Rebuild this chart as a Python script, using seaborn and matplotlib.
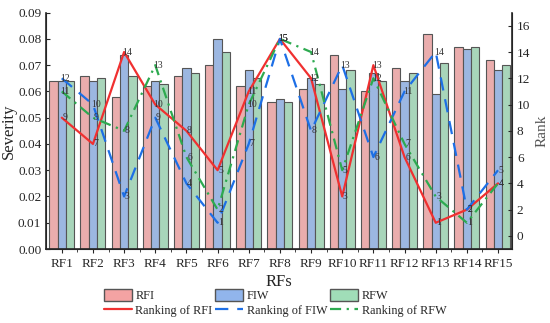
import numpy as np
import pandas as pd
import matplotlib
matplotlib.use("Agg")
import matplotlib.pyplot as plt
import seaborn as sns
from matplotlib.patches import Patch
from matplotlib.lines import Line2D

# data
rfs = [f"RF{i}" for i in range(1, 16)]
sev_rfi = [0.064, 0.066, 0.058, 0.062, 0.066, 0.070, 0.062, 0.056, 0.061, 0.074, 0.060, 0.069, 0.082, 0.077, 0.072]
sev_fiw = [0.064, 0.064, 0.074, 0.064, 0.069, 0.080, 0.068, 0.057, 0.065, 0.061, 0.067, 0.064, 0.059, 0.076, 0.068]
sev_rfw = [0.064, 0.065, 0.066, 0.063, 0.067, 0.075, 0.065, 0.056, 0.063, 0.068, 0.064, 0.067, 0.071, 0.077, 0.070]
rank_rfi = [9, 7, 14, 10, 8, 5, 11, 15, 12, 3, 13, 6, 1, 2, 4]
rank_fiw = [12, 10, 3, 9, 4, 1, 7, 15, 8, 13, 6, 11, 14, 2, 5]
rank_rfw = [11, 9, 8, 13, 6, 2, 10, 15, 14, 5, 12, 7, 3, 1, 4]

sns.set_style("ticks")
plt.rcParams['font.family'] = ['Liberation Serif', 'DejaVu Serif']
plt.rcParams['xtick.direction'] = 'out'
plt.rcParams['ytick.direction'] = 'in'

df = pd.DataFrame({
    "RF": rfs * 3,
    "Severity": sev_rfi + sev_fiw + sev_rfw,
    "Type": ["RFI"] * 15 + ["FIW"] * 15 + ["RFW"] * 15,
})
bar_colors = {"RFI": "#F4A3A3", "FIW": "#91B5EC", "RFW": "#A0DDB8"}

fig = plt.figure(figsize=(5.5, 3.23), dpi=100)
ax = fig.add_axes([0.084, 0.229, 0.847, 0.732])
sns.barplot(data=df, x="RF", y="Severity", hue="Type", palette=bar_colors,
            edgecolor="#555555", linewidth=0.8, width=0.8, ax=ax, legend=False)
ax.set_ylim(0, 0.09)
ax.set_xlim(-0.5, 14.45)
ax.set_yticks(np.arange(0, 0.091, 0.01))
ax.set_yticklabels([f"{v:.2f}" for v in np.arange(0, 0.091, 0.01)])
ax.set_xticks(np.arange(0.5, 14, 1), minor=True)
ax.set_xlabel("RFs", fontsize=12, labelpad=3)
ax.set_ylabel("Severity", fontsize=12, labelpad=1)
ax.tick_params(axis='both', labelsize=9.5, length=3)
ax.tick_params(axis='x', which='minor', length=2)
ax.spines['top'].set_visible(False)
ax.spines['left'].set_linewidth(1.2)
ax.spines['bottom'].set_linewidth(1.2)

ax2 = ax.twinx()
xs = np.arange(15)
line_specs = [
    ("Ranking of RFI", rank_rfi, "#F03030", "-"),
    ("Ranking of FIW", rank_fiw, "#1D6FE6", (0, (6, 4))),
    ("Ranking of RFW", rank_rfw, "#2DAA50", (0, (5, 2.5, 1, 2.5))),
]
for name, r, c, ls in line_specs:
    sns.lineplot(x=xs, y=r, ax=ax2, color=c, linestyle=ls, linewidth=1.6, label=name, legend=False)
    for xi, yi in zip(xs, r):
        ax2.text(xi + 0.1, yi, str(yi), fontsize=7, color="#333333", va="center", ha="center")
ax2.set_ylim(-1, 17)
ax2.set_yticks(range(0, 17, 2))
ax2.set_ylabel("Rank", fontsize=11, color="#555555")
ax2.tick_params(axis='y', labelsize=9.5, length=3, direction='in')
ax2.spines['top'].set_visible(False)
ax2.spines['right'].set_linewidth(1.2)

handles = []
for (k, c), (name, r, lc, ls) in zip(bar_colors.items(), line_specs):
    handles.append(Patch(facecolor=c, edgecolor="#555555", label=k))
    handles.append(Line2D([0], [0], color=lc, linestyle=ls, linewidth=1.6, label=name))
fig.legend(handles=handles, ncol=3, loc="lower center", bbox_to_anchor=(0.5, -0.015),
           frameon=False, fontsize=8.8, handlelength=2.3, handleheight=1.1,
           columnspacing=0.2, handletextpad=0.3, labelspacing=0.15)

fig.savefig("out.png", dpi=100)
